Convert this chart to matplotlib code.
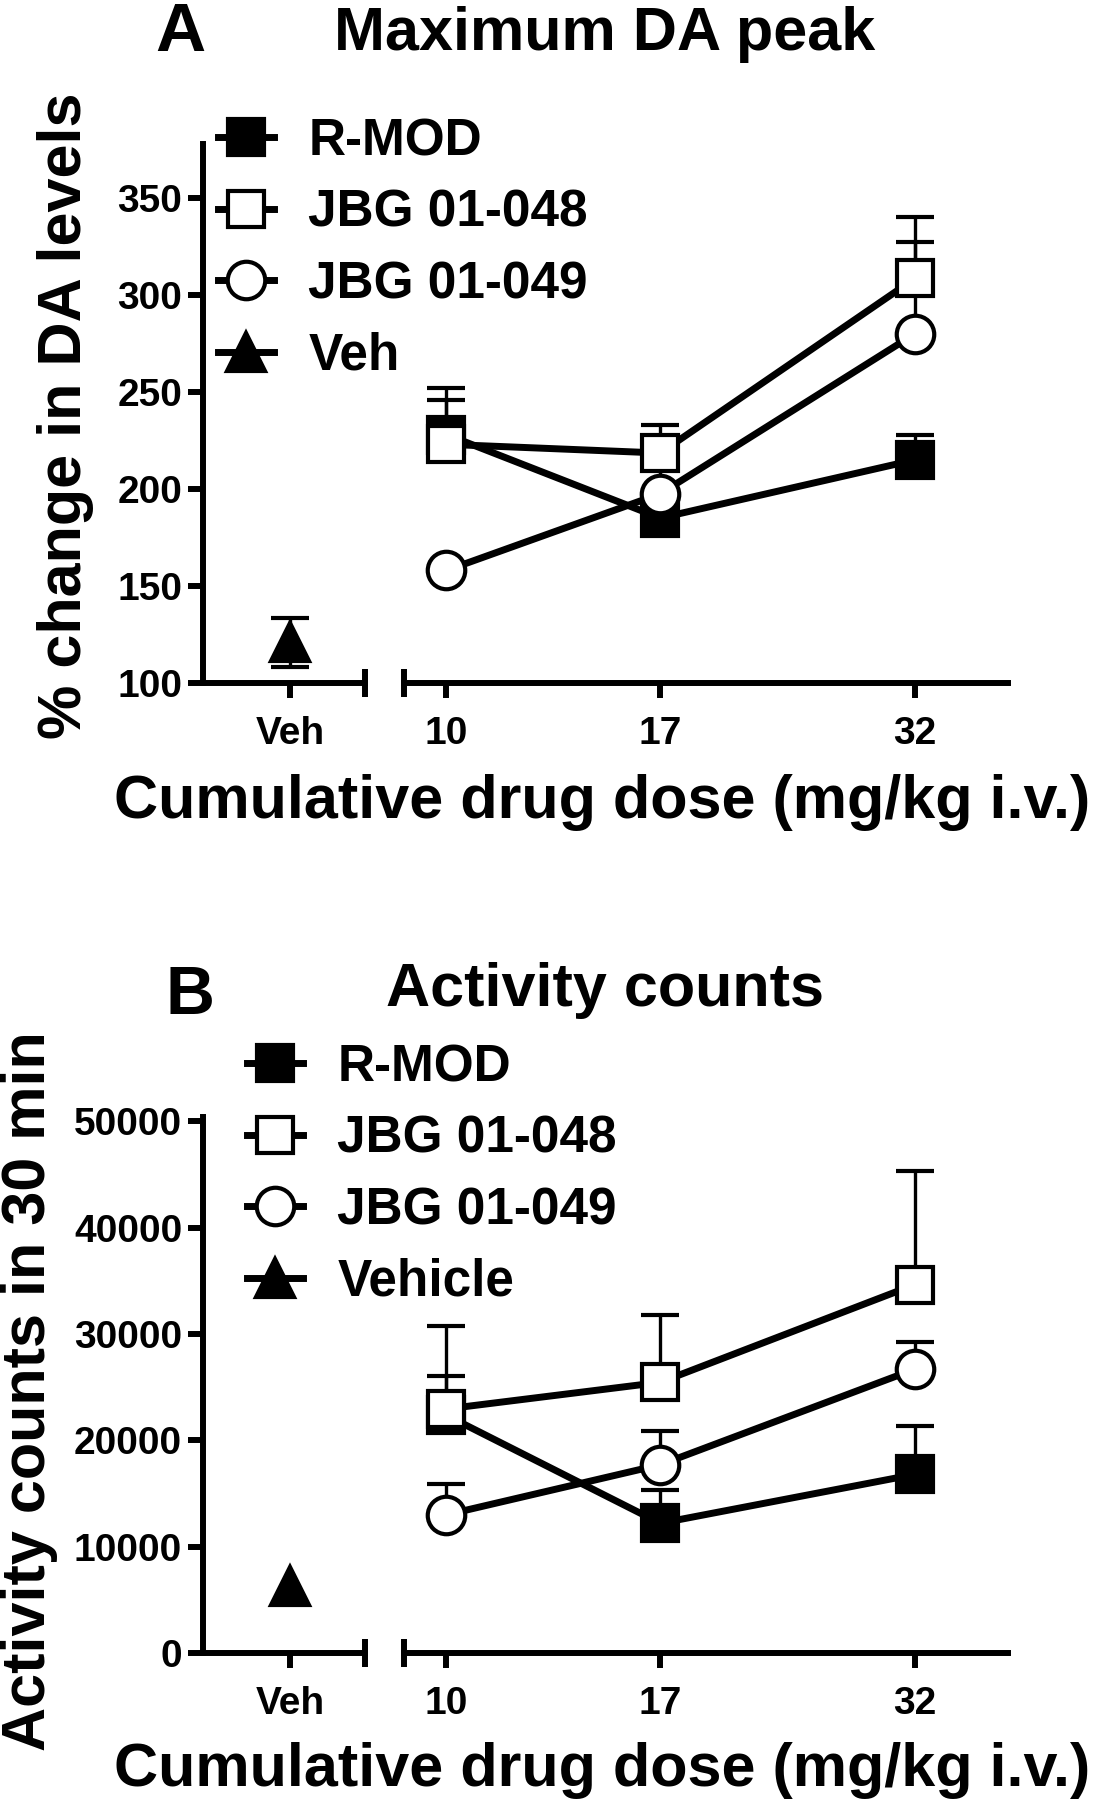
import matplotlib
matplotlib.use("Agg")
import matplotlib.pyplot as plt
from matplotlib.lines import Line2D

plt.rcParams['font.family'] = ['Liberation Sans', 'DejaVu Sans']
plt.rcParams['font.weight'] = 'bold'

# cumulative doses (mg/kg i.v.)
doses = [10, 17, 32]

# panel A: maximum DA peak (% change), mean and upper SEM
rmod_da = [228, 185, 215]
rmod_da_err = [24, 8, 13]
jbg048_da = [223, 218.5, 308.5]
jbg048_da_err = [23, 14.5, 31.5]
jbg049_da = [158, 197.5, 280]
jbg049_da_err = [3, 12.8, 47]
veh_da = [121]
veh_da_err = [12.5]

# panel B: activity counts in 30 min
rmod_act = [22350, 12200, 16800]
rmod_act_err = [3700, 3100, 4500]
jbg048_act = [22950, 25450, 34650]
jbg048_act_err = [7800, 6300, 10650]
jbg049_act = [13000, 17700, 26700]
jbg049_act_err = [2850, 3150, 2500]
veh_act = [6300]

W, H = 1102, 1800
LW = 5        # data line
SPINE = 4.3
MS = 27
MEW = 3

styles = {
    'R-MOD': dict(marker='s', mfc='black', ms=MS - 1),
    'JBG 01-048': dict(marker='s', mfc='white', ms=MS - 1),
    'JBG 01-049': dict(marker='o', mfc='white', ms=MS),
    'veh': dict(marker='^', mfc='black', ms=MS),
}


def frac(x0, y_top, x1, y_bot):
    return [x0 / W, 1 - y_bot / H, (x1 - x0) / W, (y_bot - y_top) / H]


def draw_series(ax, x, y, err, style):
    eb = ax.errorbar(x, y, yerr=[[0] * len(err), err], color='black', lw=LW,
                     mec='black', mew=MEW, elinewidth=2.4, capsize=13.7,
                     capthick=3.6, clip_on=False, **style)
    eb[1][0].set_visible(False)


def panel(y_top, y_bot, ylim, yticks, series, veh, veh_err, labels,
          leg_x, leg_y):
    axl = plt.gcf().add_axes(frac(203, y_top, 365, y_bot))
    axr = plt.gcf().add_axes(frac(404, y_top, 1008, y_bot))

    for ax in (axl, axr):
        ax.set_ylim(*ylim)
        for s in ('top', 'right'):
            ax.spines[s].set_visible(False)
        for s in ('left', 'bottom'):
            ax.spines[s].set_linewidth(SPINE)
        ax.tick_params(direction='out', length=11, width=SPINE, labelsize=28,
                       pad=4)
        ax.tick_params(axis='x', pad=12.5)
        ax.patch.set_visible(False)

    axl.set_yticks(yticks)
    axl.set_yticklabels([str(t) for t in yticks])
    axl.set_xlim(-0.537, 0.463)
    axl.set_xticks([0])
    axl.set_xticklabels(['Veh'])

    axr.spines['left'].set_visible(False)
    axr.set_yticks([])
    axr.set_xscale('log')
    axr.set_xlim(9.0, 40.3)
    axr.set_xticks(doses)
    axr.set_xticklabels([str(d) for d in doses])
    axr.minorticks_off()

    # axis break bars
    axl.plot([1], [0], marker='|', ms=20, mew=SPINE, color='black',
             transform=axl.transAxes, clip_on=False)
    axr.plot([0], [0], marker='|', ms=20, mew=SPINE, color='black',
             transform=axr.transAxes, clip_on=False)

    names = ['R-MOD', 'JBG 01-048', 'JBG 01-049']
    for name, (y, err) in zip(names, series):
        draw_series(axr, doses, y, err, styles[name])

    if veh_err is None:
        axl.plot([0], veh, ls='none', color='black', mec='black', mew=MEW,
                 clip_on=False, **styles['veh'])
    else:
        axl.errorbar([0], veh, yerr=veh_err, color='black', ls='none',
                     mec='black', mew=MEW, elinewidth=2.4, capsize=13.7,
                     capthick=3.6, clip_on=False, **styles['veh'])

    handles = [Line2D([], [], color='black', lw=LW, mec='black', mew=MEW,
                      **styles[k]) for k in names + ['veh']]
    axl.legend(handles, labels, loc='upper left', frameon=False,
               bbox_to_anchor=(leg_x / W, 1 - leg_y / H),
               bbox_transform=plt.gcf().transFigure,
               handlelength=1.08, handletextpad=0.68, labelspacing=0.44,
               borderpad=0, borderaxespad=0, prop={'weight': 'bold', 'size': 37})
    return axl, axr


fig = plt.figure(figsize=(W / 100, H / 100), dpi=100)

panel(143.5, 683, (100, 378), [100, 150, 200, 250, 300, 350],
      [(rmod_da, rmod_da_err), (jbg048_da, jbg048_da_err),
       (jbg049_da, jbg049_da_err)],
      veh_da, veh_da_err, ['R-MOD', 'JBG 01-048', 'JBG 01-049', 'Veh'],
      218, 117)

panel(1117, 1653, (0, 50400), [0, 10000, 20000, 30000, 40000, 50000],
      [(rmod_act, rmod_act_err), (jbg048_act, jbg048_act_err),
       (jbg049_act, jbg049_act_err)],
      veh_act, None, ['R-MOD', 'JBG 01-048', 'JBG 01-049', 'Vehicle'],
      247, 1043)

# panel letters, titles, axis labels
fig.text(180 / W, 1 - 51 / H, 'A', fontsize=50, ha='center', va='baseline')
fig.text(605 / W, 1 - 50 / H, 'Maximum DA peak', fontsize=44, ha='center',
         va='baseline')
fig.text(190 / W, 1 - 1014 / H, 'B', fontsize=49, ha='center', va='baseline')
fig.text(605 / W, 1 - 1006 / H, 'Activity counts', fontsize=44, ha='center',
         va='baseline')

xlab = 'Cumulative drug dose (mg/kg i.v.)'
fig.text(602 / W, 1 - 818 / H, xlab, fontsize=44, ha='center', va='baseline')
fig.text(602 / W, 1 - 1786 / H, xlab, fontsize=44, ha='center', va='baseline')

fig.text(66 / W, 1 - 416 / H, '% change in DA levels', fontsize=44,
         rotation=90, ha='center', va='center')
fig.text(30 / W, 1 - 1391 / H, 'Activity counts in 30 min', fontsize=44,
         rotation=90, ha='center', va='center')

fig.savefig('out.png', dpi=100)
